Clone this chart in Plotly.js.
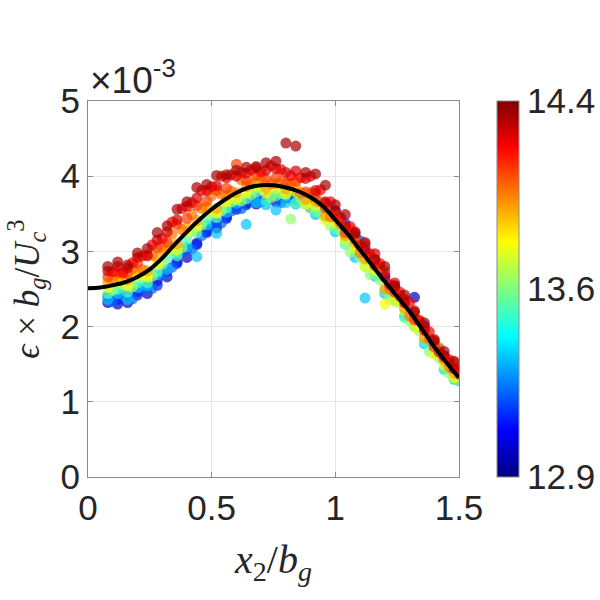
<!DOCTYPE html>
<html>
<head>
<meta charset="utf-8">
<script src="https://cdn.plot.ly/plotly-3.0.1.min.js"></script>
<style>html,body{margin:0;padding:0;background:#fff;}#chart{width:600px;height:600px;}</style>
</head>
<body>
<div id="chart"></div>
<script>
// x positions (x2/bg) of the scatter columns
var xPosA = [0.08,0.12,0.16,0.20,0.24,0.28,0.32,0.36,0.40,0.44,0.48,0.52,0.56,0.60,0.64,0.68,0.72,0.76,0.80,0.84,0.88,0.92,0.96,1.00,1.04,1.08,1.12,1.16,1.20,1.24,1.28,1.32,1.36,1.40,1.44,1.48];
var xPosB = [0.10,0.14,0.18,0.22,0.26,0.30,0.34,0.38,0.42,0.46,0.50,0.54,0.58,0.62,0.66,0.70,0.74,0.78,0.82,0.86,0.90,0.94,0.98,1.02,1.06,1.10,1.14,1.18,1.22,1.26,1.30,1.34,1.38,1.42,1.46,1.50];

// epsilon*bg/Uc^3 values (units of 1e-3), one list per group
var yDarkBlue = [2.32,2.30,2.32,2.46,2.44,2.61,2.66,2.86,2.92,3.11,3.27,3.31,3.44,3.56,3.64,3.63,3.70,3.66,3.71,3.73,3.71,3.69,3.64,3.54,3.33,3.20,2.98,2.89,2.66,2.54,2.32,2.39,2.01,1.77,1.61,1.42];
var yBlue     = [2.40,2.36,2.42,2.42,2.54,2.55,2.74,2.84,3.04,3.09,3.25,3.39,3.46,3.60,3.62,3.71,3.68,3.74,3.75,3.69,3.69,3.65,3.62,3.44,3.37,3.16,3.06,2.81,2.70,2.46,2.36,2.11,1.99,1.71,1.59,1.40];
var yBlueB    = [2.33,2.42,2.37,2.50,2.51,2.69,2.79,2.99,3.03,3.21,3.34,3.38,3.54,3.57,3.68,3.66,3.72,3.65,3.71,3.70,3.58,3.58,3.54,3.45,3.25,3.14,2.89,2.76,2.54,2.42,2.18,2.06,1.83,1.70,1.50,1.28];
var yAzure    = [2.36,2.44,2.36,2.52,2.54,2.69,2.76,2.98,3.06,2.93,3.35,3.24,3.52,3.64,3.36,3.65,3.62,3.55,3.65,3.63,3.63,3.49,3.46,3.26,3.15,2.92,2.38,2.67,2.44,2.36,2.14,2.01,1.77,1.67,1.43,1.30];
var yCyan     = [2.44,2.50,2.46,2.58,2.58,2.73,2.92,2.94,3.16,3.25,3.43,3.45,3.58,3.68,3.70,3.79,3.68,3.74,3.75,3.65,3.65,3.53,3.50,3.30,3.09,3.02,2.80,2.71,2.48,2.34,2.12,2.05,1.81,1.65,1.43,1.34];
var yGreenB   = [2.49,2.56,2.53,2.66,2.67,2.83,3.03,3.05,3.27,3.35,3.52,3.54,3.66,3.67,3.76,3.84,3.72,3.77,3.43,3.70,3.58,3.52,3.34,3.27,2.99,2.92,2.69,2.62,2.38,2.32,2.08,1.94,1.67,1.58,1.38,1.28];
var yYellow   = [2.52,2.60,2.54,2.68,2.66,2.83,3.02,3.02,3.26,3.33,3.53,3.51,3.66,3.70,3.78,3.87,3.78,3.84,3.77,3.79,3.63,3.61,3.42,3.38,3.15,3.04,2.80,2.75,2.30,2.34,2.22,1.99,1.89,1.63,1.49,1.32];
var yAmber    = [2.58,2.66,2.62,2.74,2.74,2.91,3.08,3.10,3.32,3.41,3.59,3.57,3.74,3.78,3.86,3.93,3.84,3.90,3.83,3.85,3.69,3.67,3.48,3.46,3.21,3.12,2.90,2.87,2.50,2.46,2.24,2.11,1.85,1.77,1.55,1.38];
var yOrangeB  = [2.63,2.70,2.77,2.76,2.95,3.03,3.23,3.29,3.49,3.57,3.74,3.76,3.80,3.95,3.90,3.98,3.90,3.93,3.91,3.78,3.78,3.66,3.46,3.37,3.29,2.98,2.91,2.80,2.50,2.40,2.14,2.08,1.83,1.72,1.46,1.36];
var yOrange   = [2.66,2.72,2.70,2.84,2.96,3.05,3.12,3.36,3.44,3.61,3.67,3.81,3.84,4.16,3.94,4.01,3.96,3.98,3.91,3.93,3.79,3.77,3.58,3.48,3.25,3.18,3.10,2.81,2.74,2.46,2.36,2.09,1.99,1.73,1.59,1.52];
var yRedB     = [2.73,2.72,2.85,2.94,3.09,3.17,3.39,3.57,3.65,3.81,3.86,4.00,4.02,4.05,4.08,4.06,4.14,4.09,4.01,3.98,4.00,3.82,3.66,3.45,3.33,3.08,2.97,2.84,2.56,2.46,2.32,2.08,1.93,1.66,1.56,1.44];
var yRed      = [2.74,2.80,2.78,2.92,2.94,3.15,3.26,3.42,3.60,3.71,3.81,3.87,3.98,4.00,4.04,4.11,4.08,4.10,4.05,4.07,3.97,3.81,3.66,3.54,3.33,3.26,3.02,2.97,2.66,2.58,2.32,2.21,1.95,1.81,1.61,1.44];
var yDarkRed  = [2.80,2.86,2.82,2.98,3.04,3.25,3.34,3.56,3.66,3.85,3.89,4.01,4.02,4.08,4.12,4.13,4.18,4.20,4.44,4.40,4.05,4.03,3.88,3.62,3.49,3.24,3.12,2.89,2.80,2.54,2.42,2.19,2.05,1.83,1.67,1.54];

// colour value of each group, in drawing order (colorbar quantity)
var groupC = [12.95, 13.10, 13.20, 13.35, 13.55, 13.65, 13.80, 13.95, 14.02, 14.10, 14.20, 14.25, 14.32];
var groupY = [yDarkBlue, yBlue, yBlueB, yAzure, yCyan, yGreenB, yYellow, yAmber, yOrangeB, yOrange, yRedB, yRed, yDarkRed];
var groupX = ['A','A','B','A','A','B','A','A','B','A','B','A','A'];

// fitted curve (units of 1e-3)
var fitX = [0,0.05,0.1,0.15,0.2,0.25,0.3,0.35,0.4,0.45,0.5,0.55,0.6,0.65,0.7,0.75,0.8,0.85,0.9,0.95,1.0,1.05,1.1,1.15,1.2,1.25,1.3,1.35,1.4,1.45,1.5];
var fitY = [2.51,2.52,2.55,2.59,2.66,2.76,2.91,3.09,3.26,3.42,3.56,3.68,3.78,3.85,3.88,3.88,3.85,3.80,3.72,3.60,3.42,3.23,3.02,2.81,2.60,2.40,2.20,1.97,1.73,1.52,1.32];

// axis tick labels
var xTicks = [0, 0.5, 1, 1.5];
var xTickText = ['0', '0.5', '1', '1.5'];
var yTicks = [0, 1, 2, 3, 4, 5];
var yTickText = ['0', '1', '2', '3', '4', '5'];
var cTicks = [12.87, 13.625, 14.38];
var cTickText = ['12.9', '13.6', '14.4'];

var sx = [], sy = [], sc = [];
groupY.forEach(function (ys, g) {
  var xs = groupX[g] === 'A' ? xPosA : xPosB;
  ys.forEach(function (v, i) { sx.push(xs[i]); sy.push(v); sc.push(groupC[g]); });
});

var jet = [[0,'rgb(0,0,128)'],[0.125,'rgb(0,0,255)'],[0.375,'rgb(0,255,255)'],[0.625,'rgb(255,255,0)'],[0.875,'rgb(255,0,0)'],[1,'rgb(128,0,0)']];

var txtCol = '#262626';
var axCol = '#8a8a8a';

var traces = [
  {
    type: 'scatter', mode: 'markers', x: sx, y: sy,
    marker: {
      size: 11, color: sc, colorscale: jet, cmin: 12.87, cmax: 14.38, opacity: 0.7,
      line: {width: 0},
      showscale: true,
      colorbar: {
        x: 1.103, xanchor: 'left', y: 0.5, yanchor: 'middle', len: 1.0, lenmode: 'fraction',
        thickness: 22, thicknessmode: 'pixels',
        outlinewidth: 1, outlinecolor: axCol,
        tickvals: cTicks, ticktext: cTickText, ticks: '',
        tickfont: {size: 35, color: txtCol, family: 'Liberation Sans, Arial, sans-serif'},
        xpad: 0, ypad: 0
      }
    },
    hoverinfo: 'skip'
  },
  {
    type: 'scatter', mode: 'lines', x: fitX, y: fitY,
    line: {color: '#000', width: 4, shape: 'spline'},
    hoverinfo: 'skip'
  }
];

var layout = {
  width: 600, height: 600,
  margin: {l: 88, r: 137, t: 101, b: 123},
  paper_bgcolor: '#fff', plot_bgcolor: '#fff',
  showlegend: false,
  font: {family: 'Liberation Sans, Arial, sans-serif', color: txtCol, size: 35},
  xaxis: {
    range: [0, 1.5], tickvals: xTicks, ticktext: xTickText,
    showgrid: true, gridcolor: '#e6e6e6', gridwidth: 1, zeroline: false,
    showline: true, linecolor: axCol, linewidth: 1, mirror: 'ticks',
    ticks: 'inside', ticklen: 5, tickcolor: axCol,
    tickfont: {size: 35, color: txtCol},
    title: {text: '<i>x</i><sub>2</sub>/<i>b</i><sub><i>g</i></sub>', font: {family: 'Liberation Serif, DejaVu Serif, serif', size: 40, color: txtCol}, standoff: 18}
  },
  yaxis: {
    range: [0, 5], tickvals: yTicks, ticktext: yTickText,
    showgrid: true, gridcolor: '#e6e6e6', gridwidth: 1, zeroline: false,
    showline: true, linecolor: axCol, linewidth: 1, mirror: 'ticks',
    ticks: 'inside', ticklen: 5, tickcolor: axCol,
    tickfont: {size: 35, color: txtCol},
    title: {text: '<i>ϵ</i> × <i>b</i><sub><i>g</i></sub>/<i>U</i><sub><i>c</i></sub><sup>3</sup>', font: {family: 'Liberation Serif, DejaVu Serif, serif', size: 35, color: txtCol}, standoff: 10}
  },
  annotations: [
    {text: '×10<sup>-3</sup>', xref: 'paper', yref: 'paper', x: 0, y: 1, xanchor: 'left', yanchor: 'bottom',
     yshift: -2, showarrow: false, font: {size: 37, color: txtCol}}
  ]
};

Plotly.newPlot('chart', traces, layout, {displayModeBar: false, staticPlot: true});
</script>
</body>
</html>
